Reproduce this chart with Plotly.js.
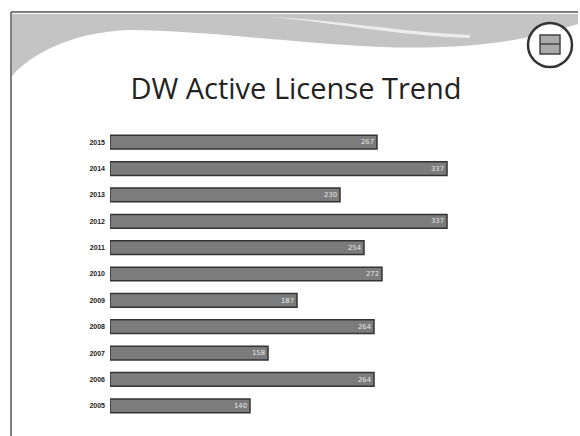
<!DOCTYPE html>
<html>
<head>
<meta charset="utf-8">
<script src="https://cdn.plot.ly/plotly-3.0.1.min.js"></script>
<style>
  body { margin: 0; background: #ffffff; }
  #chart { width: 580px; height: 436px; }
</style>
</head>
<body>
<div id="chart"></div>
<script>
// years from bottom to top, as plotly draws categories upward
let years = ['2005', '2006', '2007', '2008', '2009', '2010', '2011', '2012', '2013', '2014', '2015'];
// active licenses (labels in the scan are unreadable)
let licenses = [140, 264, 158, 264, 187, 272, 254, 337, 230, 337, 267];

// plot area in pixels, used to place the slide decoration
let L = 110, R = 530, T = 129, B = 419;
function px(x) { return (x - L) / (R - L); }
function py(y) { return (B - y) / (B - T); }

let wave = 'M ' + px(12) + ',' + py(14) +
    ' L ' + px(578) + ',' + py(14) +
    ' L ' + px(578) + ',' + py(24) +
    ' C ' + px(520) + ',' + py(42) + ' ' + px(470) + ',' + py(50) + ' ' + px(380) + ',' + py(47) +
    ' C ' + px(300) + ',' + py(44) + ' ' + px(200) + ',' + py(30) + ' ' + px(130) + ',' + py(30) +
    ' C ' + px(70) + ',' + py(32) + ' ' + px(30) + ',' + py(55) + ' ' + px(12) + ',' + py(76) + ' Z';

let streak = 'M ' + px(270) + ',' + py(17) +
    ' C ' + px(330) + ',' + py(22) + ' ' + px(400) + ',' + py(36) + ' ' + px(470) + ',' + py(38) +
    ' L ' + px(470) + ',' + py(35) +
    ' C ' + px(400) + ',' + py(32) + ' ' + px(330) + ',' + py(19) + ' ' + px(270) + ',' + py(17) + ' Z';

let trace = {
    type: 'bar',
    orientation: 'h',
    x: licenses,
    y: years,
    text: licenses.map(String),
    textposition: 'inside',
    insidetextanchor: 'end',
    textfont: { family: 'DejaVu Sans', size: 8, color: '#e6e6e6' },
    marker: {
        color: '#7c7c7c',
        line: { color: '#333333', width: 1.5 }
    },
    hoverinfo: 'none'
};

let layout = {
    width: 580,
    height: 436,
    margin: { l: L, r: 580 - R, t: T, b: 436 - B },
    paper_bgcolor: '#ffffff',
    plot_bgcolor: '#ffffff',
    showlegend: false,
    bargap: 0.48,
    title: {
        text: 'DW Active License Trend',
        font: { family: 'Open Sans', size: 29, color: '#222222' },
        x: 296 / 580, xanchor: 'center',
        y: 1 - 89 / 436, yanchor: 'middle'
    },
    xaxis: {
        range: [0, R - L],
        visible: false,
        fixedrange: true
    },
    yaxis: {
        type: 'category',
        showgrid: false,
        zeroline: false,
        showline: false,
        ticks: '',
        ticklabelstandoff: 4,
        tickfont: { family: 'Liberation Sans', size: 7, color: '#222222', weight: 'bold' }
    },
    shapes: [
        { type: 'path', xref: 'paper', yref: 'paper', path: wave,
          fillcolor: '#c4c4c4', line: { width: 0 }, layer: 'below' },
        { type: 'path', xref: 'paper', yref: 'paper', path: streak,
          fillcolor: '#ececec', line: { width: 0 }, layer: 'below' },
        { type: 'line', xref: 'paper', yref: 'paper',
          x0: px(11), x1: px(578), y0: py(12), y1: py(12),
          line: { color: '#555555', width: 1.5 } },
        { type: 'line', xref: 'paper', yref: 'paper',
          x0: px(11), x1: px(11), y0: py(12), y1: py(436),
          line: { color: '#555555', width: 1.5 } },
        { type: 'circle', xref: 'paper', yref: 'paper',
          x0: px(528), x1: px(572), y0: py(23), y1: py(67),
          fillcolor: '#ffffff', line: { color: '#333333', width: 2.5 } },
        { type: 'rect', xref: 'paper', yref: 'paper',
          x0: px(540), x1: px(560), y0: py(35), y1: py(54),
          fillcolor: '#aaaaaa', line: { color: '#444444', width: 1.5 } },
        { type: 'line', xref: 'paper', yref: 'paper',
          x0: px(540), x1: px(560), y0: py(44), y1: py(44),
          line: { color: '#444444', width: 1.5 } }
    ]
};

Plotly.newPlot('chart', [trace], layout, { displayModeBar: false, staticPlot: true });
</script>
</body>
</html>
